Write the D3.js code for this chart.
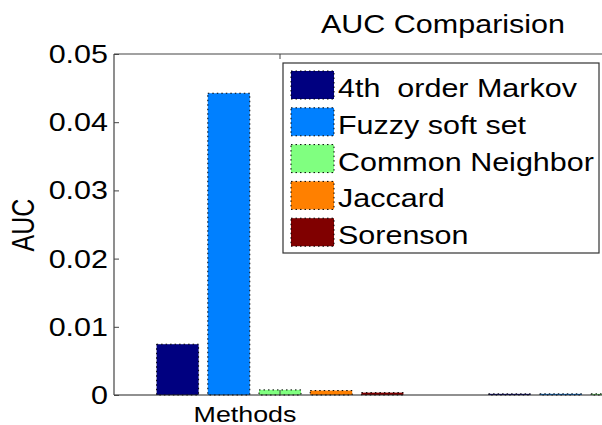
<!DOCTYPE html>
<html>
<head>
<meta charset="utf-8">
<script src="https://cdn.jsdelivr.net/npm/d3@7"></script>
<style>
  html, body { margin: 0; padding: 0; background: #fff; }
  svg { display: block; font-family: "Liberation Sans", Arial, sans-serif; }
  svg text { white-space: pre; }
</style>
</head>
<body>
<svg id="chart" width="602" height="425"></svg>
<script>
// ---- data ----
const groups = ["Methods", "Group 2"];
const seriesNames = ["4th  order Markov", "Fuzzy soft set", "Common Neighbor", "Jaccard", "Sorenson"];
const seriesColors = ["#000080", "#0080ff", "#80ff80", "#ff8000", "#800000"];
const group1Values = [0.0073, 0.0441, 0.0006, 0.0005, 0.0002];
const group2Values = [0.00002, 0.00002, 0.00002, 0.00002, 0.00002];
const yTickValues = [0, 0.01, 0.02, 0.03, 0.04, 0.05];
const yTickLabels = ["0", "0.01", "0.02", "0.03", "0.04", "0.05"];
const titleText = "AUC Comparision";
const yLabel = "AUC";
const xLabel = "Methods";

const valuesByGroup = [group1Values, group2Values];

// ---- layout ----
const W = 602, H = 425;
const plotLeft = 114, plotTop = 54, plotBottom = 395;
const SX = 1.22; // horizontal stretch of the original picture's text

const svg = d3.select("#chart");

const x0 = d3.scaleBand().domain(groups).range([plotLeft, plotLeft + 664]).padding(0);
const x1 = d3.scaleBand().domain(d3.range(seriesNames.length))
  .range([-128, 128]).paddingInner(0.18).paddingOuter(0.09);
const y = d3.scaleLinear().domain([0, 0.05]).range([plotBottom, plotTop]);

function stext(g, x, yy, txt, anchor, size) {
  return g.append("text")
    .attr("transform", `translate(${x},${yy}) scale(${SX},1)`)
    .attr("text-anchor", anchor)
    .attr("font-size", size)
    .attr("fill", "#000")
    .attr("xml:space", "preserve")
    .text(txt);
}

// bars
const gBars = svg.append("g");
groups.forEach((grp, gi) => {
  const cx = x0(grp) + x0.bandwidth() / 2;
  gBars.selectAll(null)
    .data(valuesByGroup[gi].map((v, i) => ({ v, i })))
    .enter().append("rect")
    .attr("x", d => cx + x1(d.i))
    .attr("width", x1.bandwidth())
    .attr("y", d => y(d.v) - 1)
    .attr("height", d => Math.max(1, y(0) - y(d.v) + 1))
    .attr("fill", d => seriesColors[d.i])
    .attr("stroke", "#000")
    .attr("stroke-width", 1)
    .attr("stroke-dasharray", "1.5,3");
});

// axes lines (box: left, top, bottom)
svg.append("line").attr("x1", plotLeft).attr("x2", W).attr("y1", plotBottom).attr("y2", plotBottom)
  .attr("stroke", "#222").attr("stroke-width", 1.2);
svg.append("line").attr("x1", plotLeft).attr("x2", W).attr("y1", plotTop).attr("y2", plotTop)
  .attr("stroke", "#444").attr("stroke-width", 1.2);
svg.append("line").attr("x1", plotLeft).attr("x2", plotLeft).attr("y1", plotTop).attr("y2", plotBottom)
  .attr("stroke", "#444").attr("stroke-width", 1.2);

// y axis ticks (inward) via d3 axis
const yAxis = d3.axisRight(y).tickValues(yTickValues).tickSize(5).tickFormat("");
const gy = svg.append("g").attr("transform", `translate(${plotLeft},0)`).call(yAxis);
gy.select(".domain").remove();
gy.selectAll(".tick line").attr("stroke", "#444");

// y tick labels
yTickValues.forEach((v, i) => {
  stext(svg, 108, y(v) + 9, yTickLabels[i], "end", 25);
});

// x ticks at group centers (inward top and bottom)
groups.forEach(grp => {
  const cx = x0(grp) + x0.bandwidth() / 2;
  svg.append("line").attr("x1", cx).attr("x2", cx).attr("y1", plotTop).attr("y2", plotTop + 5).attr("stroke", "#444");
  svg.append("line").attr("x1", cx).attr("x2", cx).attr("y1", plotBottom).attr("y2", plotBottom - 5).attr("stroke", "#444");
});

// x label
stext(svg, 245, 422, xLabel, "middle", 22);

// y label
svg.append("text")
  .attr("transform", `translate(37,225) scale(${SX},1) rotate(-90)`)
  .attr("text-anchor", "middle")
  .attr("font-size", 25)
  .attr("dy", "-0.1em")
  .text(yLabel);

// title
stext(svg, 443, 33, titleText, "middle", 25);

// legend
const lg = svg.append("g");
lg.append("rect").attr("x", 283).attr("y", 63).attr("width", 316).attr("height", 190)
  .attr("fill", "#fff").attr("stroke", "#333").attr("stroke-width", 1.2);
seriesNames.forEach((name, i) => {
  const ry = 71 + i * 36.8;
  lg.append("rect").attr("x", 291).attr("y", ry).attr("width", 43).attr("height", 28)
    .attr("fill", seriesColors[i]).attr("stroke", "#000").attr("stroke-width", 1)
    .attr("stroke-dasharray", "1.5,3");
  stext(lg, 338, ry + 26, name, "start", 25);
});
</script>
</body>
</html>
